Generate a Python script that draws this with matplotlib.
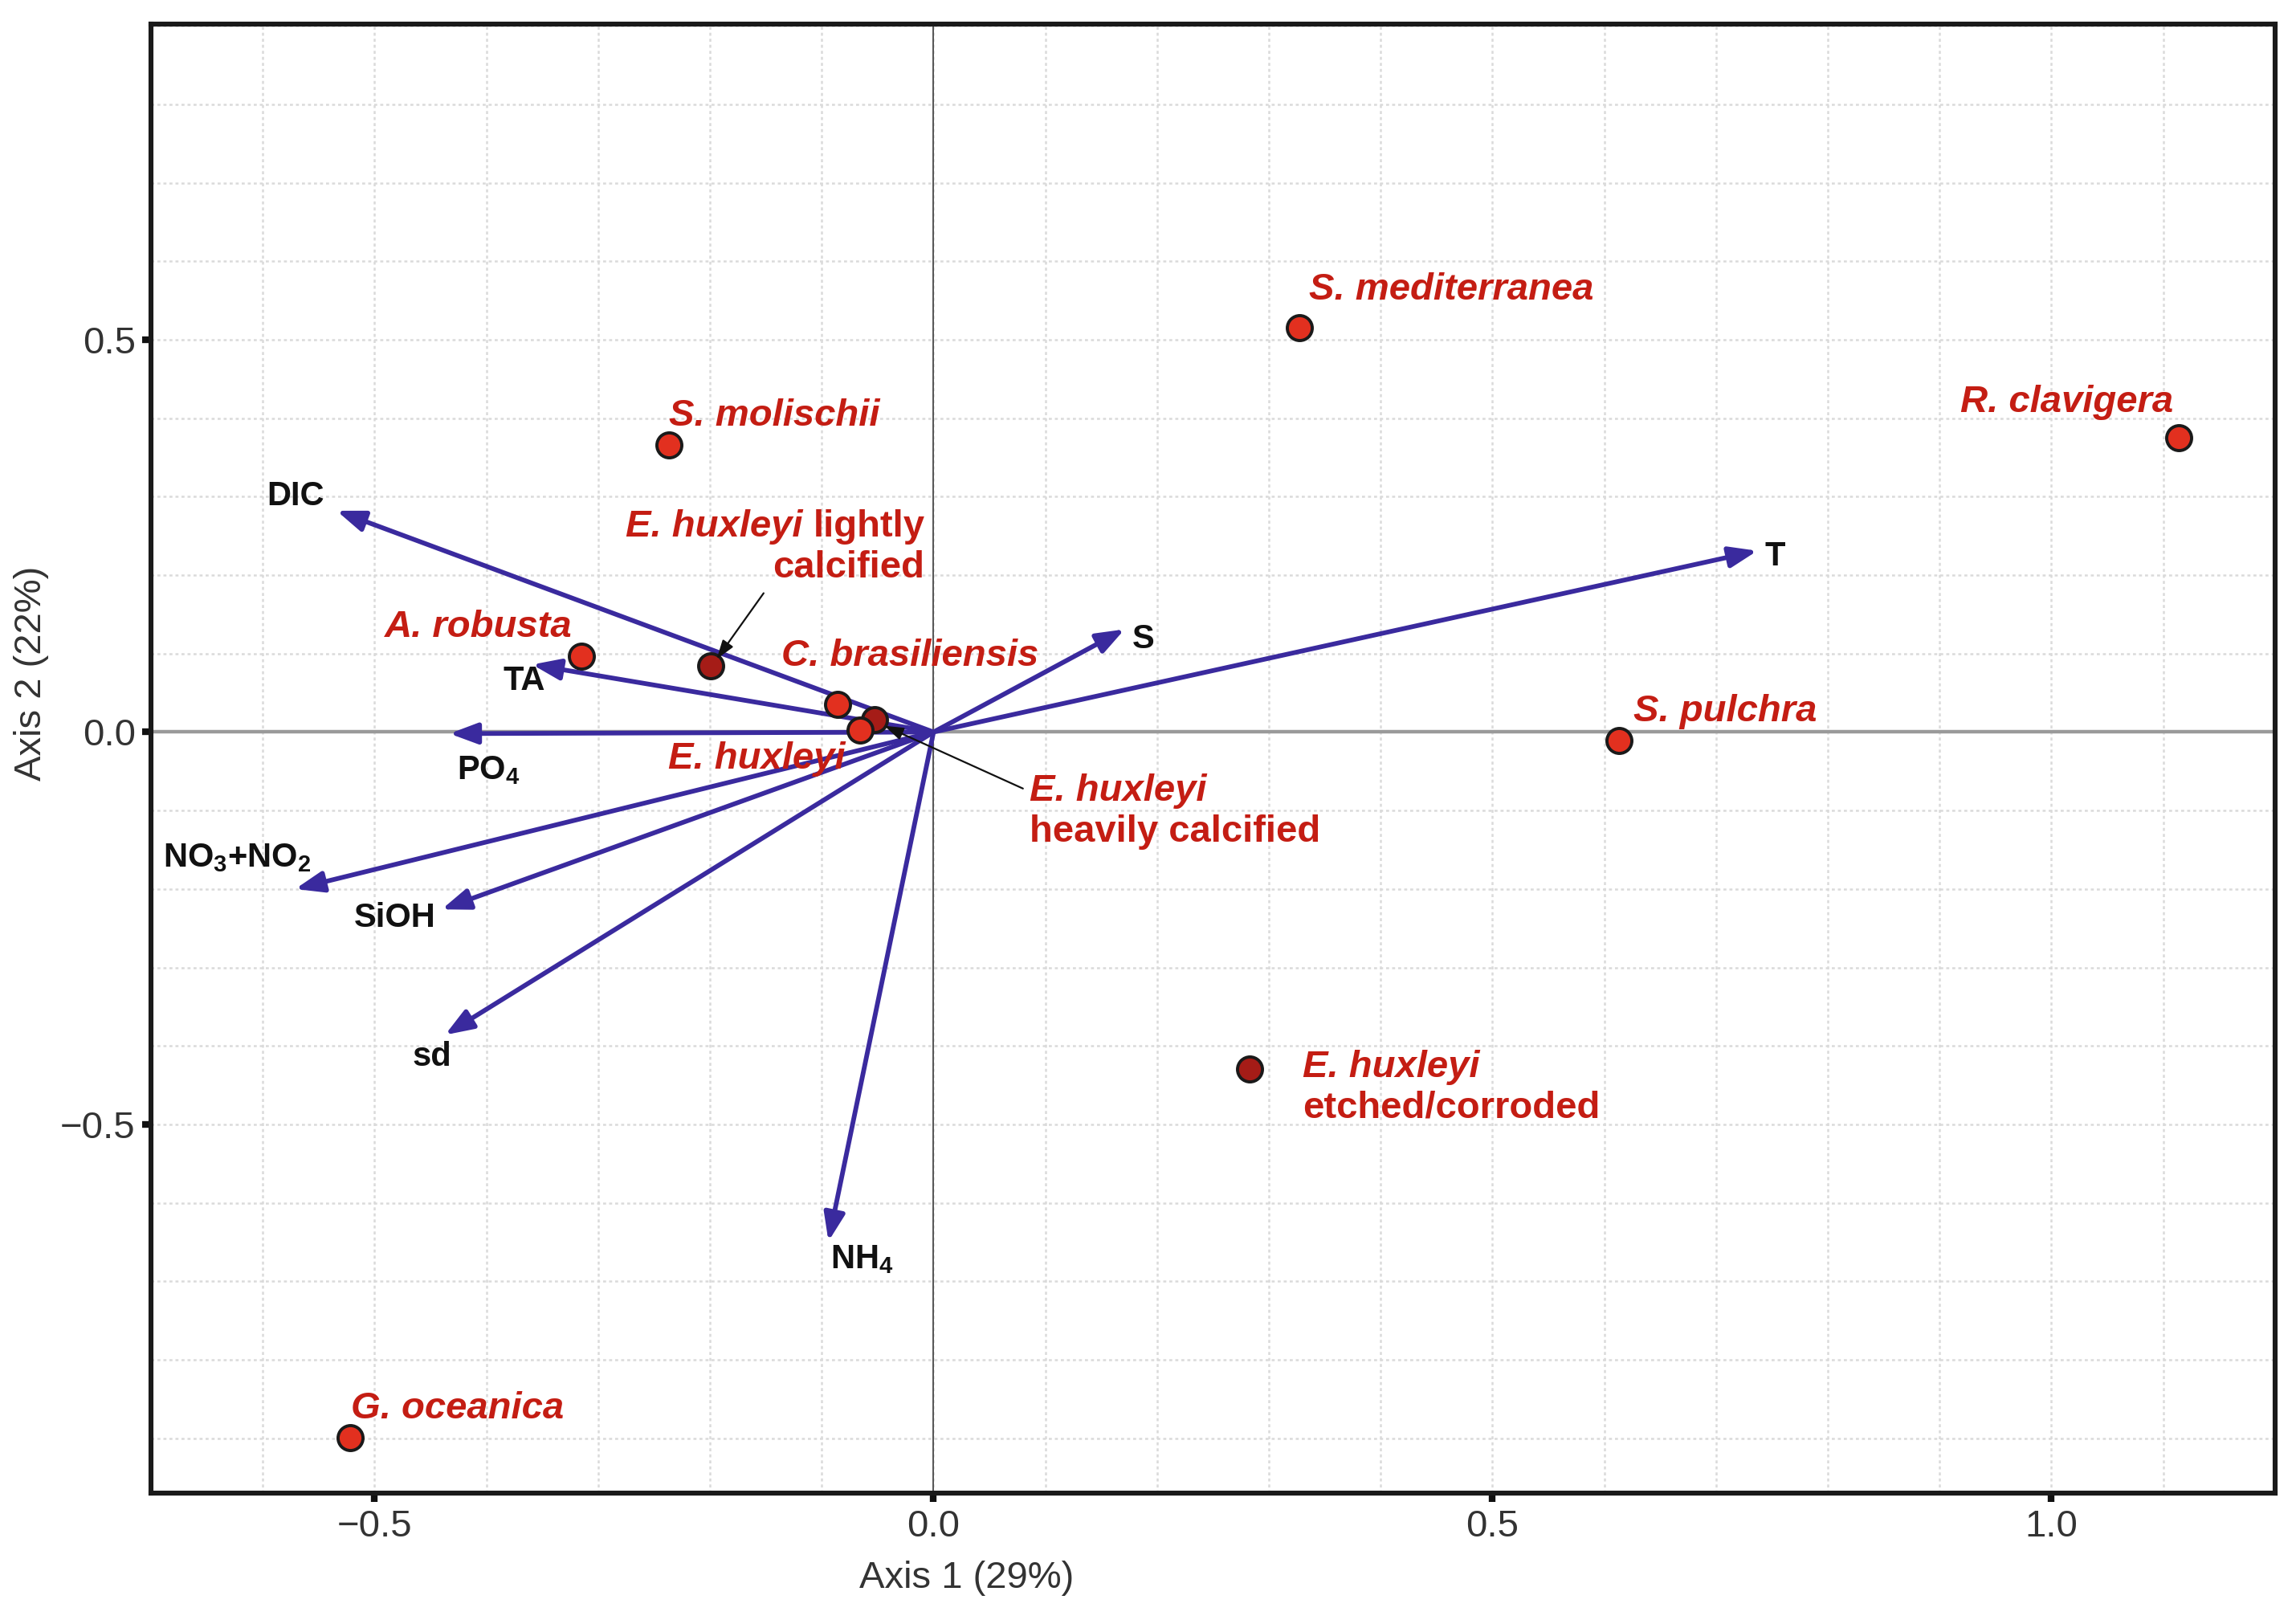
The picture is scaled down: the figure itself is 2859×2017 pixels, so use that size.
import matplotlib
matplotlib.use("Agg")
import matplotlib.pyplot as plt
from matplotlib.patches import FancyArrowPatch
from matplotlib.ticker import MultipleLocator

plt.rcParams['font.family'] = ['Liberation Sans', 'DejaVu Sans']
plt.rcParams['mathtext.fontset'] = 'custom'
plt.rcParams['mathtext.rm'] = 'Liberation Sans:bold'
plt.rcParams['mathtext.it'] = 'Liberation Sans:bold:italic'
plt.rcParams['mathtext.bf'] = 'Liberation Sans:bold'

# ---------------- data ----------------
# species scores (Axis 1, Axis 2)
species_names = ["S. mediterranea", "R. clavigera", "S. molischii", "A. robusta",
                 "E. huxleyi lightly calcified", "C. brasiliensis",
                 "E. huxleyi heavily calcified", "E. huxleyi", "S. pulchra",
                 "E. huxleyi etched/corroded", "G. oceanica"]
species_x = [0.327, 1.114, -0.237, -0.315, -0.199, -0.086, -0.053, -0.066, 0.613, 0.283, -0.522]
species_y = [0.515, 0.375, 0.366, 0.097, 0.084, 0.035, 0.016, 0.003, -0.011, -0.429, -0.899]
species_dark = [False, False, False, False, True, False, True, False, False, True, False]

# environmental vectors
env_names = ["DIC", "TA", "PO$_4$", "NO$_3$+NO$_2$", "SiOH", "sd", "NH$_4$", "S", "T"]
env_x = [-0.534, -0.359, -0.433, -0.571, -0.440, -0.437, -0.094, 0.171, 0.737]
env_y = [0.282, 0.086, -0.002, -0.200, -0.226, -0.386, -0.649, 0.131, 0.231]
env_label_x = [-0.571, -0.366, -0.398, -0.623, -0.482, -0.449, -0.064, 0.188, 0.753]
env_label_y = [0.300, 0.065, -0.049, -0.160, -0.237, -0.414, -0.672, 0.118, 0.224]

x_label = "Axis 1 (29%)"
y_label = "Axis 2 (22%)"
x_ticks = [-0.5, 0.0, 0.5, 1.0]
y_ticks = [-0.5, 0.0, 0.5]

# ---------------- style ----------------
RED_PT = '#e2301f'
DARK_PT = '#a51c17'
RED_TXT = '#c41d13'
ARROW_C = '#3a2a9e'

fig = plt.figure(figsize=(14.295, 10.085), dpi=200)
ax = fig.add_axes([0.0658, 0.0783, 0.925, 0.9067])
ax.set_xlim(-0.7, 1.2)
ax.set_ylim(-0.97, 0.902)

ax.xaxis.set_minor_locator(MultipleLocator(0.1))
ax.yaxis.set_minor_locator(MultipleLocator(0.1))
ax.set_xticks(x_ticks)
ax.set_yticks(y_ticks)
ax.set_xticklabels(["\u22120.5", "0.0", "0.5", "1.0"])
ax.set_yticklabels(["\u22120.5", "0.0", "0.5"])
ax.grid(True, which='both', color='#dadada', lw=0.9, ls=(0, (1.5, 1.5)), zorder=0)
ax.set_axisbelow(True)
ax.tick_params(which='major', length=4, width=3, color='#111111', labelsize=17,
               labelcolor='#333333', pad=3)
ax.tick_params(which='minor', length=0)
for s in ax.spines.values():
    s.set_linewidth(2.2)
    s.set_color('#1a1a1a')

ax.axhline(0, color='#9a9a9a', lw=1.6, zorder=1)
ax.axvline(0, color='#555555', lw=0.7, zorder=1)

ax.set_xlabel(x_label, fontsize=17, color='#333333')
ax.set_ylabel(y_label, fontsize=17, color='#333333')
ax.xaxis.set_label_coords(0.384, -0.046)
ax.yaxis.set_label_coords(-0.048, 0.558)

# environmental arrows
for name, ex, ey, lx, ly in zip(env_names, env_x, env_y, env_label_x, env_label_y):
    arr = FancyArrowPatch((0, 0), (ex, ey), arrowstyle='-|>,head_length=0.75,head_width=0.28',
                          mutation_scale=14, color=ARROW_C, lw=2.1, shrinkA=0, shrinkB=0,
                          zorder=3)
    ax.add_patch(arr)
    ax.text(lx, ly, name, fontsize=15, fontweight='bold', color='#111111',
            ha='center', va='center', zorder=5)

# species points
for sx, sy, dark in zip(species_x, species_y, species_dark):
    ax.scatter(sx, sy, s=125, facecolor=DARK_PT if dark else RED_PT,
               edgecolor='#1a1a1a', linewidth=1.4, zorder=6)

lab = dict(fontsize=17, fontweight='bold', color=RED_TXT, zorder=7)

ax.text(0.336, 0.563, "S. mediterranea", style='italic', ha='left', va='center', **lab)
ax.text(1.109, 0.420, "R. clavigera", style='italic', ha='right', va='center', **lab)
ax.text(-0.237, 0.403, "S. molischii", style='italic', ha='left', va='center', **lab)
ax.text(-0.323, 0.134, "A. robusta", style='italic', ha='right', va='center', **lab)
ax.text(-0.136, 0.097, "C. brasiliensis", style='italic', ha='left', va='center', **lab)
ax.text(-0.079, -0.034, "E. huxleyi", style='italic', ha='right', va='center', **lab)
ax.text(0.626, 0.026, "S. pulchra", style='italic', ha='left', va='center', **lab)
ax.text(-0.521, -0.862, "G. oceanica", style='italic', ha='left', va='center', **lab)

# lightly calcified (mixed styles)
t_light = ax.text(-0.008, 0.261, "lightly", ha='right', va='center', **lab)
ax.annotate("E. huxleyi ", xy=(0, 0), xycoords=t_light, ha='right', va='bottom',
            style='italic', **lab)
ax.text(-0.008, 0.209, "calcified", ha='right', va='center', **lab)

# heavily calcified
ax.text(0.086, -0.075, "E. huxleyi", style='italic', ha='left', va='center', **lab)
ax.text(0.086, -0.127, "heavily calcified", ha='left', va='center', **lab)

# etched/corroded
ax.text(0.330, -0.427, "E. huxleyi", style='italic', ha='left', va='center', **lab)
ax.text(0.330, -0.479, "etched/corroded", ha='left', va='center', **lab)

# leader arrows
ax.annotate("", xy=(-0.194, 0.093), xytext=(-0.152, 0.177),
            arrowprops=dict(arrowstyle='-|>,head_length=0.6,head_width=0.2', mutation_scale=12,
                            color='#111111', lw=0.8, shrinkA=0, shrinkB=0), zorder=8)
ax.annotate("", xy=(-0.044, 0.008), xytext=(0.080, -0.072),
            arrowprops=dict(arrowstyle='-|>,head_length=0.6,head_width=0.2', mutation_scale=12,
                            color='#111111', lw=0.8, shrinkA=0, shrinkB=0), zorder=8)

fig.savefig("out.png", dpi=200, facecolor='white')
